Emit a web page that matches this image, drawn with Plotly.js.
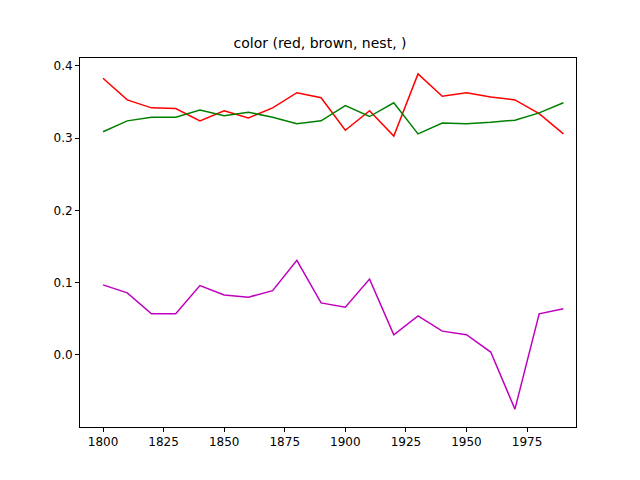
<!DOCTYPE html>
<html>
<head>
<script src="https://cdn.plot.ly/plotly-3.0.1.min.js"></script>
<style>body{margin:0}</style>
</head>
<body>
<div id="chart" style="width:640px;height:480px"></div>
<script>
var years = [1800,1810,1820,1830,1840,1850,1860,1870,1880,1890,1900,1910,1920,1930,1940,1950,1960,1970,1980,1990];
var red = [0.383,0.353,0.342,0.341,0.324,0.338,0.328,0.342,0.363,0.356,0.311,0.338,0.303,0.389,0.358,0.363,0.357,0.353,0.334,0.306];
var brown = [0.309,0.324,0.329,0.329,0.339,0.331,0.336,0.329,0.320,0.324,0.345,0.330,0.349,0.306,0.321,0.320,0.322,0.325,0.335,0.349];
var nest = [0.097,0.086,0.057,0.057,0.096,0.083,0.080,0.089,0.131,0.072,0.066,0.105,0.028,0.054,0.033,0.028,0.004,-0.075,0.057,0.064];

function line(y, color) {
  return {x: years, y: y, type: 'scatter', mode: 'lines', line: {color: color, width: 1.5}};
}

var data = [line(red, 'red'), line(brown, 'green'), line(nest, '#bf00bf')];

var axis = {showgrid: false, zeroline: false, showline: true, mirror: true, linecolor: 'black',
  ticks: 'outside', ticklen: 4, tickcolor: 'black', tickfont: {size: 12, color: 'black'}};

var layout = {
  width: 640, height: 480,
  margin: {l: 80, r: 64, t: 58, b: 53},
  showlegend: false,
  font: {family: 'DejaVu Sans', color: 'black'},
  title: {text: 'color (red, brown, nest, )', font: {size: 14}, y: 0.91, yanchor: 'middle'},
  xaxis: Object.assign({}, axis, {range: [1790.5, 1995.2], tickvals: [1800,1825,1850,1875,1900,1925,1950,1975]}),
  yaxis: Object.assign({}, axis, {range: [-0.0997, 0.411], tickvals: [0, 0.1, 0.2, 0.3, 0.4], tickformat: '.1f'}),
  plot_bgcolor: 'white', paper_bgcolor: 'white'
};

Plotly.newPlot('chart', data, layout, {displayModeBar: false});
</script>
</body>
</html>
